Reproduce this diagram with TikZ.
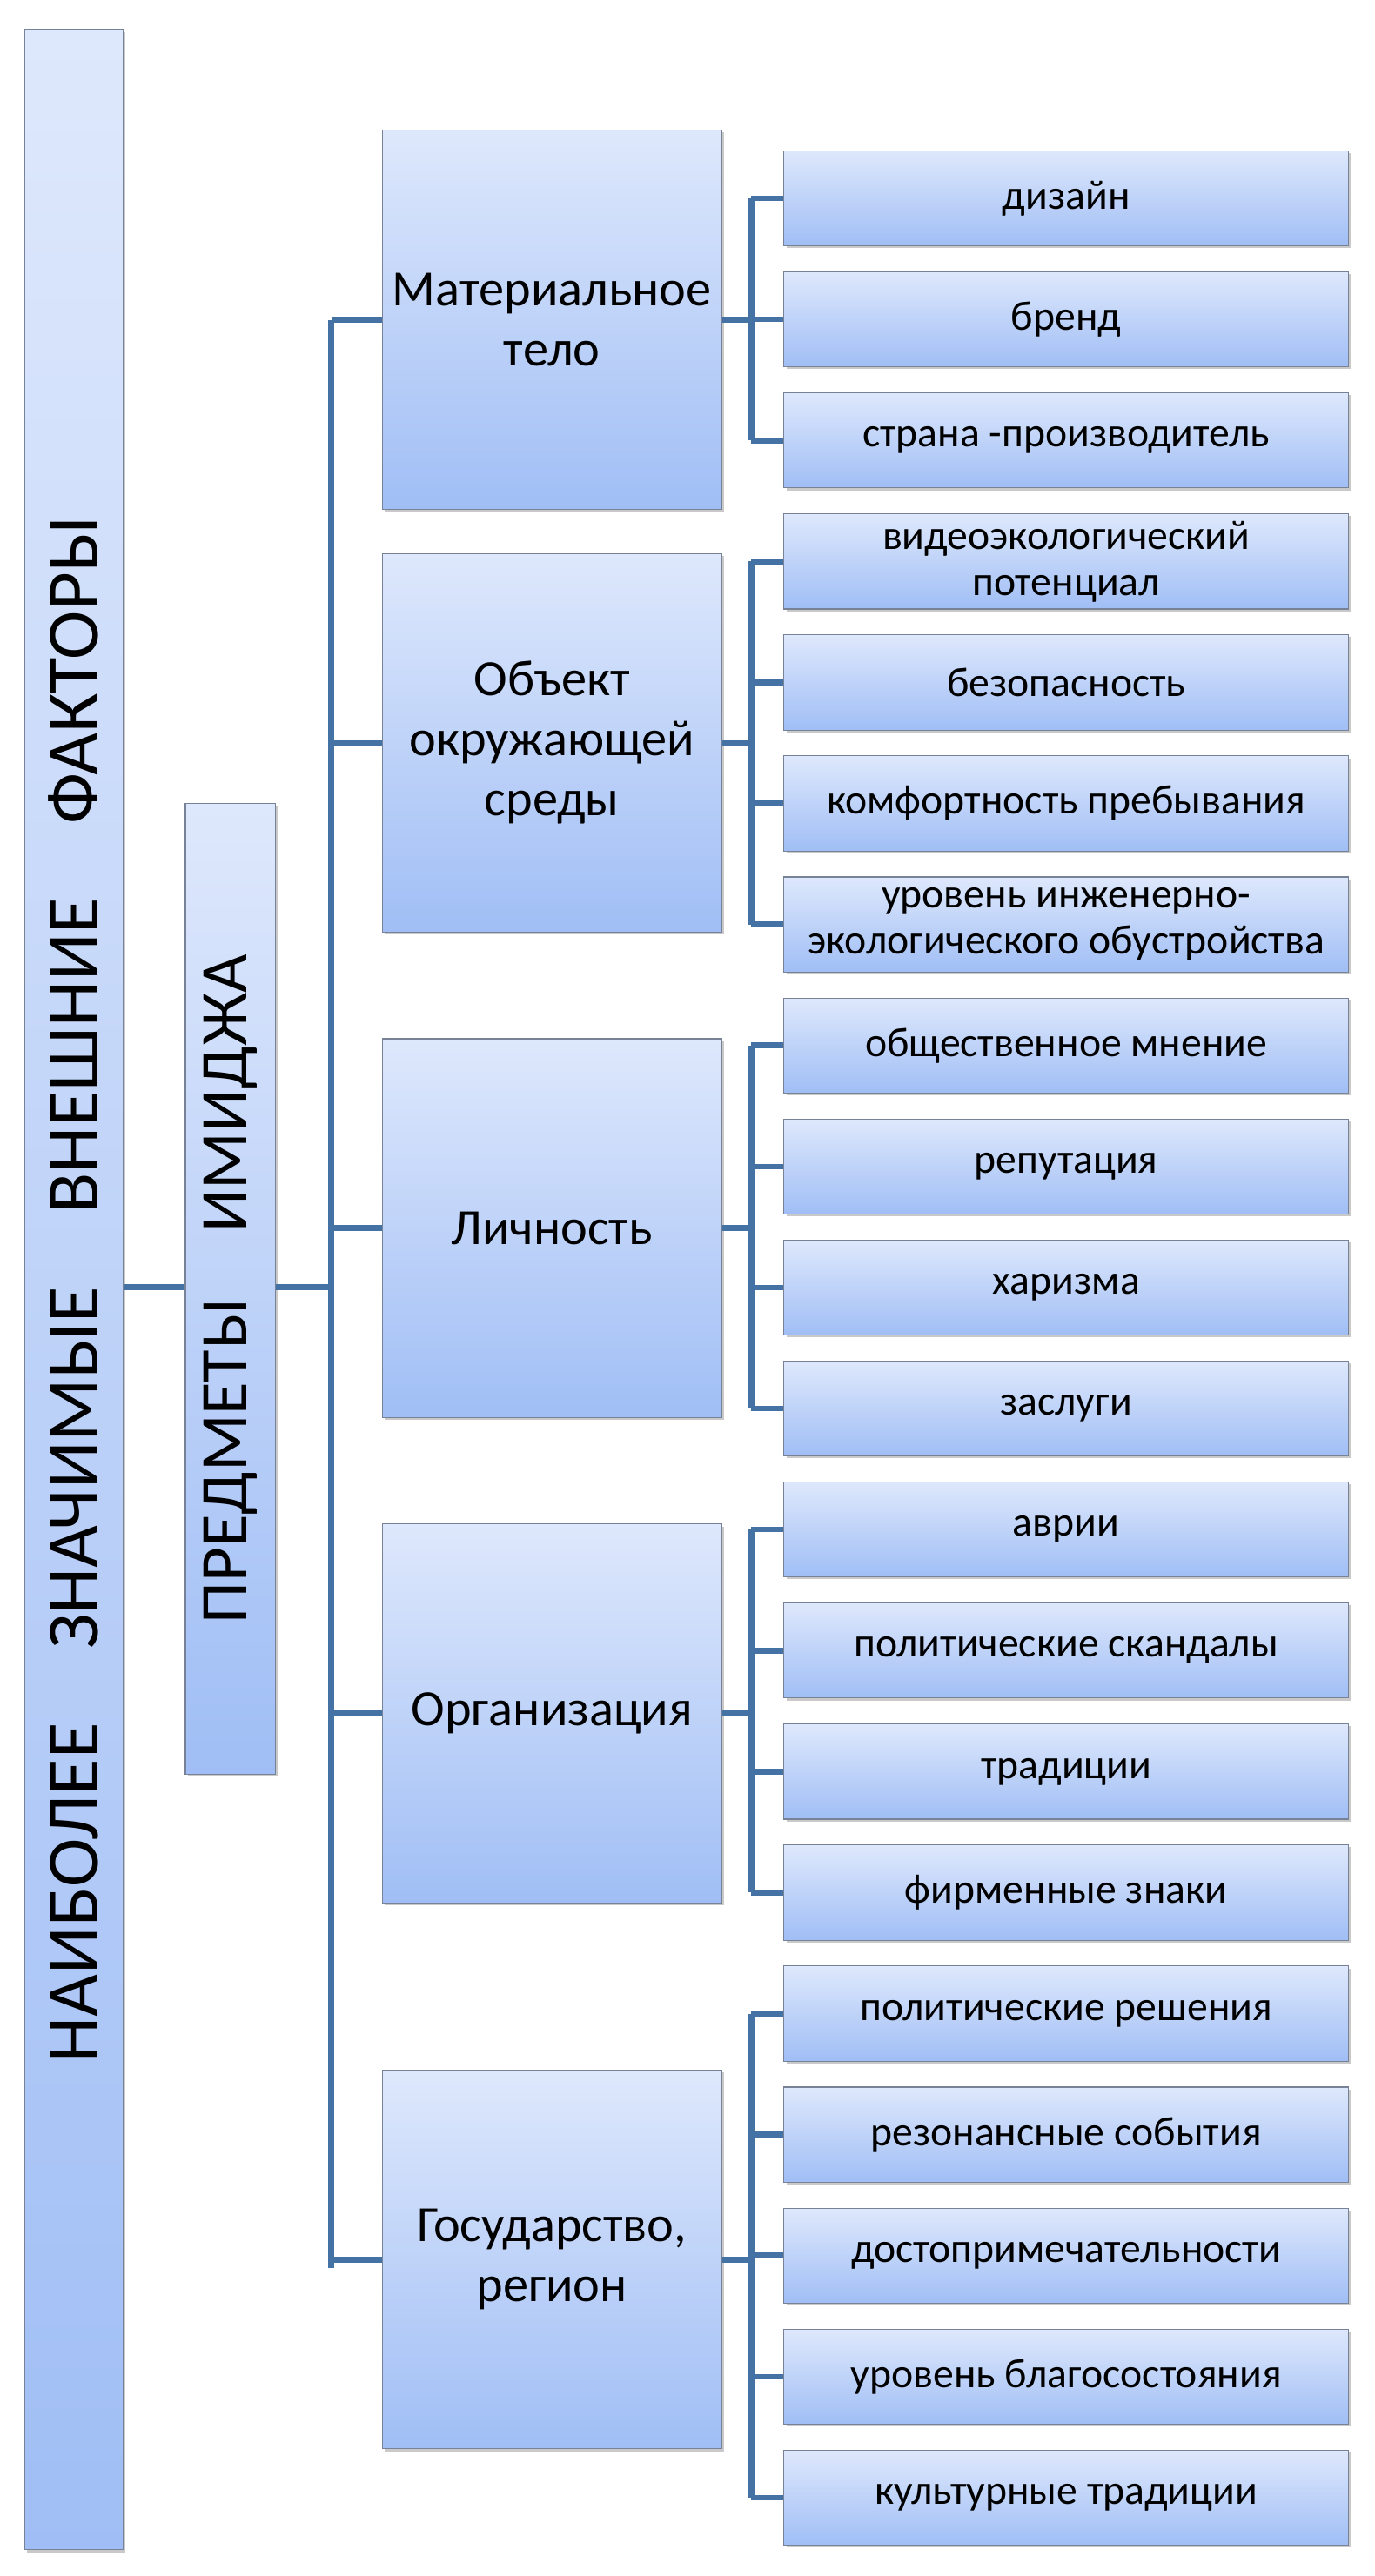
\documentclass[tikz,border=0pt]{standalone}
\usepackage{fontspec}
\setmainfont{Carlito}
\usetikzlibrary{shadows}
\definecolor{topc}{RGB}{222,232,252}
\definecolor{botc}{RGB}{160,190,245}
\definecolor{linec}{RGB}{68,114,165}
\definecolor{edgec}{RGB}{120,130,150}
\begin{document}
\begin{tikzpicture}[x=0.05cm,y=-0.05cm,
 bx/.style={draw=edgec,line width=0.8pt,top color=topc,bottom color=botc,align=center,inner sep=0pt,
   drop shadow={shadow xshift=2pt,shadow yshift=-2pt,fill=black!35,opacity=0.6}},
 ln/.style={draw=linec,line width=5pt}]
\fill[white] (0,0) rectangle (838,1571);
\node[bx,minimum width=60*0.05cm,minimum height=1537*0.05cm] (big) at (45,786.5) {};
\node[rotate=90,font=\fontsize{64}{70}\selectfont] at (big.center) {НАИБОЛЕЕ\quad ЗНАЧИМЫЕ\quad ВНЕШНИЕ\quad ФАКТОРЫ};
\node[bx,minimum width=55*0.05cm,minimum height=592*0.05cm] (sec) at (140.5,786) {};
\node[rotate=90,font=\fontsize{58}{64}\selectfont] at (sec.center) {ПРЕДМЕТЫ\quad ИМИДЖА};
\draw[ln] (big.east |- 0,785) -- (sec.west |- 0,785);
\coordinate (t1) at (202,195);
\coordinate (t2) at (202,1383);
\coordinate (s) at (202,785);
\draw[ln] (sec.east |- s) -- (s);
\draw[ln] (t1) -- (t2);
\foreach \i/\cy/\txt in {1/195/{Материальное\\тело},2/453/{Объект\\окружающей\\среды},3/749/{Личность},4/1045/{Организация},5/1378/{Государство,\\регион}}{
 \node[bx,minimum width=207*0.05cm,minimum height=231*0.05cm,font=\fontsize{44}{52}\selectfont] (m\i) at (336.5,\cy) {\txt};
 \draw[ln] (202,\cy) -- (m\i.west);
}
\foreach \k/\txt in {0/{дизайн},1/{бренд},2/{страна -производитель},3/{видеоэкологический\\потенциал},4/{безопасность},5/{комфортность пребывания},6/{уровень инженерно-\\экологического обустройства},7/{общественное мнение},8/{репутация},9/{харизма},10/{заслуги},11/{аврии},12/{политические скандалы},13/{традиции},14/{фирменные знаки},15/{политические решения},16/{резонансные события},17/{достопримечательности},18/{уровень благосостояния},19/{культурные традиции}}{
 \node[bx,minimum width=344*0.05cm,minimum height=58*0.05cm,font=\fontsize{36}{40}\selectfont] (r\k) at (650,121+73.8*\k) {\txt};
}
\foreach \g/\a/\b in {1/0/2,2/3/6,3/7/10,4/11/14,5/15/19}{
 \draw[ln] (m\g.east) -- (458,0 |- m\g.east);
 \draw[ln] (458,0 |- r\a.west) -- (458,0 |- r\b.west);
 \foreach \k in {\a,...,\b}{\draw[ln] (458,0 |- r\k.west) -- (r\k.west);}
}
\end{tikzpicture}
\end{document}
